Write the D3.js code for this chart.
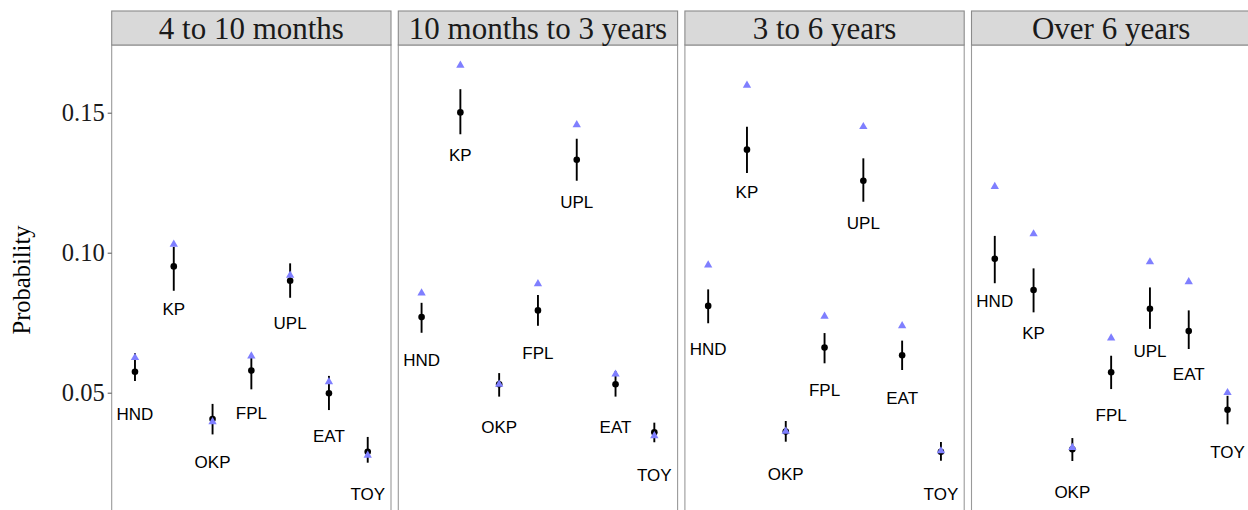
<!DOCTYPE html>
<html>
<head>
<meta charset="utf-8">
<script src="https://cdn.jsdelivr.net/npm/d3@7"></script>
<style>
html,body{margin:0;padding:0;background:#fff;}
svg{display:block;}
</style>
</head>
<body>
<svg id="chart" width="1248" height="510"></svg>
<script>
const panels = ["4 to 10 months", "10 months to 3 years", "3 to 6 years", "Over 6 years"];
const categories = ["HND", "KP", "OKP", "FPL", "UPL", "EAT", "TOY"];
const yTicks = [0.05, 0.10, 0.15];
const yTickLabels = ["0.05", "0.10", "0.15"];

// estimated probability (black dot), per panel, in category order
const estimate = [
  [0.0575, 0.0951, 0.0406, 0.0579, 0.0900, 0.0498, 0.0289],
  [0.0770, 0.1501, 0.0530, 0.0794, 0.1332, 0.0530, 0.0359],
  [0.0810, 0.1368, 0.0361, 0.0661, 0.1257, 0.0634, 0.0289],
  [0.0978, 0.0867, 0.0298, 0.0573, 0.0800, 0.0720, 0.0439]
];
const lower = [
  [0.0542, 0.0864, 0.0351, 0.0512, 0.0839, 0.0438, 0.0250],
  [0.0714, 0.1423, 0.0486, 0.0739, 0.1257, 0.0486, 0.0323],
  [0.0748, 0.1285, 0.0325, 0.0605, 0.1182, 0.0581, 0.0257],
  [0.0891, 0.0787, 0.0256, 0.0513, 0.0728, 0.0656, 0.0387]
];
const upper = [
  [0.0641, 0.1021, 0.0460, 0.0638, 0.0962, 0.0560, 0.0342],
  [0.0821, 0.1584, 0.0570, 0.0849, 0.1407, 0.0577, 0.0393],
  [0.0869, 0.1450, 0.0399, 0.0713, 0.1337, 0.0686, 0.0324],
  [0.1060, 0.0944, 0.0338, 0.0632, 0.0876, 0.0794, 0.0489]
];
// observed proportion (blue triangle)
const observed = [
  [0.0625, 0.1030, 0.0396, 0.0631, 0.0919, 0.0539, 0.0276],
  [0.0856, 0.1669, 0.0530, 0.0889, 0.1457, 0.0566, 0.0346],
  [0.0956, 0.1598, 0.0362, 0.0773, 0.1450, 0.0739, 0.0292],
  [0.1236, 0.1067, 0.0304, 0.0695, 0.0967, 0.0896, 0.0500]
];

const svg = d3.select("#chart");
const panelW = 279.3, panelGap = 7.3, firstLeft = 111.7;
const stripTop = 11, stripH = 34, plotTop = stripTop + stripH, plotBottom = 515;

const y = d3.scaleLinear()
  .domain([0.05 - (plotBottom - 392.7) / 2800, 0.05 + (392.7 - plotTop) / 2800])
  .range([plotBottom, plotTop]);

const labelOffset = 42.5;

panels.forEach((name, p) => {
  const left = firstLeft + p * (panelW + panelGap);
  const g = svg.append("g").attr("transform", `translate(${left},0)`);
  const x = d3.scalePoint().domain(categories).range([0, panelW]).padding(0.6);

  // panel background and border
  g.append("rect").attr("x", 0).attr("y", plotTop).attr("width", panelW)
    .attr("height", plotBottom - plotTop).attr("fill", "#fff")
    .attr("stroke", "#9a9a9a").attr("stroke-width", 1.1);

  // strip
  g.append("rect").attr("x", 0).attr("y", stripTop).attr("width", panelW)
    .attr("height", stripH).attr("fill", "#d9d9d9")
    .attr("stroke", "#8a8a8a").attr("stroke-width", 1.1);
  g.append("text").attr("x", panelW / 2).attr("y", stripTop + stripH / 2)
    .attr("dy", "0.36em").attr("text-anchor", "middle")
    .attr("font-family", "Liberation Serif, Times New Roman, serif")
    .attr("font-size", 31).attr("fill", "#1a1a1a").text(name);

  const rows = categories.map((c, i) => ({
    c, est: estimate[p][i], lo: lower[p][i], hi: upper[p][i], obs: observed[p][i]
  }));

  // error bars
  g.selectAll("line.err").data(rows).join("line").attr("class", "err")
    .attr("x1", d => x(d.c)).attr("x2", d => x(d.c))
    .attr("y1", d => y(d.lo)).attr("y2", d => y(d.hi))
    .attr("stroke", "#000").attr("stroke-width", 1.9);

  // dots
  g.selectAll("circle.est").data(rows).join("circle").attr("class", "est")
    .attr("cx", d => x(d.c)).attr("cy", d => y(d.est)).attr("r", 3.3)
    .attr("fill", "#000");

  // triangles
  const tri = d3.symbol().type(d3.symbolTriangle).size(30);
  g.selectAll("path.obs").data(rows).join("path").attr("class", "obs")
    .attr("transform", d => `translate(${x(d.c)},${y(d.obs)})`)
    .attr("d", tri).attr("fill", "#7f7fff");

  // labels
  g.selectAll("text.lab").data(rows).join("text").attr("class", "lab")
    .attr("x", d => x(d.c)).attr("y", d => y(d.est) + labelOffset)
    .attr("dy", "0.36em").attr("text-anchor", "middle")
    .attr("font-family", "Liberation Sans, Arial, sans-serif")
    .attr("font-size", 17).attr("fill", "#000").text(d => d.c);
});

// y axis
const axis = d3.axisLeft(y).tickValues(yTicks).tickFormat((d, i) => yTickLabels[i]).tickSizeOuter(0).tickSize(4);
const ax = svg.append("g").attr("transform", `translate(${firstLeft},0)`).call(axis);
ax.select(".domain").remove();
ax.selectAll(".tick line").attr("stroke", "#555").attr("stroke-width", 1);
ax.selectAll(".tick text").attr("font-family", "Liberation Serif, Times New Roman, serif")
  .attr("font-size", 24.5).attr("fill", "#1a1a1a").attr("x", -7);

svg.append("text")
  .attr("transform", `translate(30,${(plotTop + plotBottom) / 2}) rotate(-90)`)
  .attr("text-anchor", "middle")
  .attr("font-family", "Liberation Serif, Times New Roman, serif")
  .attr("font-size", 24.5).attr("fill", "#000").text("Probability");
</script>
</body>
</html>
